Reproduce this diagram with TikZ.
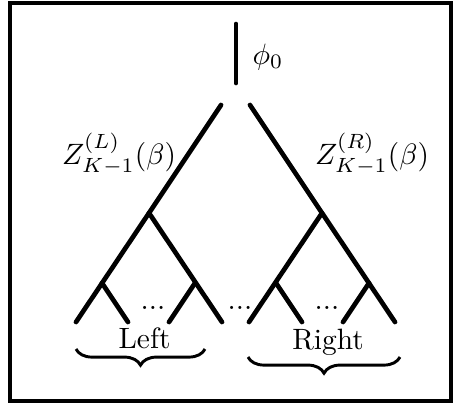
\documentclass[tikz,border=0pt]{standalone}
\usepackage{amsmath}
\usetikzlibrary{decorations.pathreplacing}

\begin{document}
\begin{tikzpicture}[x=0.34pt, y=-0.34pt,
    branch/.style={line width=1.6pt, line cap=round},
    curly/.style={decorate, decoration={brace, mirror, amplitude=5.5pt}, line width=1pt}]
  % frame
  \useasboundingbox (0,0) rectangle (453,402);
  \draw[line width=1.36pt] (10,3) rectangle (450.5,400.5);

  % root edge
  \coordinate (top) at (236,24);
  \coordinate (root) at (236,83);
  \draw[branch] (top) -- (root);
  \node[anchor=base] (phi) at (268,64) {$\phi_0$};

  % left subtree
  \coordinate (ltop) at (221,105);
  \coordinate (lmid) at (149,213);
  \coordinate (lend) at (76,322);
  \coordinate (lrend) at (222,322);
  \coordinate (la) at (102,283);
  \coordinate (laend) at (128,322);
  \coordinate (lb) at (195,283);
  \coordinate (lbend) at (169,322);
  \draw[branch] (ltop) -- (lmid) -- (lend);
  \draw[branch] (lmid) -- (lrend);
  \draw[branch] (la) -- (laend);
  \draw[branch] (lb) -- (lbend);

  % right subtree
  \coordinate (rtop) at (250,105);
  \coordinate (rmid) at (322,213);
  \coordinate (rend) at (395,322);
  \coordinate (rlend) at (249,322);
  \coordinate (ra) at (276,283);
  \coordinate (raend) at (302,322);
  \coordinate (rb) at (369,283);
  \coordinate (rbend) at (343,322);
  \draw[branch] (rtop) -- (rmid) -- (rend);
  \draw[branch] (rmid) -- (rlend);
  \draw[branch] (ra) -- (raend);
  \draw[branch] (rb) -- (rbend);

  % labels
  \node[anchor=base] (zl) at (119,164) {$Z^{(L)}_{K-1}(\beta)$};
  \node[anchor=base] (zr) at (372,164) {$Z^{(R)}_{K-1}(\beta)$};
  \node[anchor=base] (dl) at (153,309) {...};
  \node[anchor=base] (dm) at (240,309) {...};
  \node[anchor=base] (dr) at (327,309) {...};
  \node[anchor=base] (left) at (144.5,348) {Left};
  \node[anchor=base] (right) at (328,349) {Right};

  % braces
  \coordinate (bl1) at (76,349);
  \coordinate (bl2) at (205,349);
  \coordinate (br1) at (248,357);
  \coordinate (br2) at (400,357);
  \draw[curly] (bl1) -- (bl2);
  \draw[curly] (br1) -- (br2);
\end{tikzpicture}
\end{document}
